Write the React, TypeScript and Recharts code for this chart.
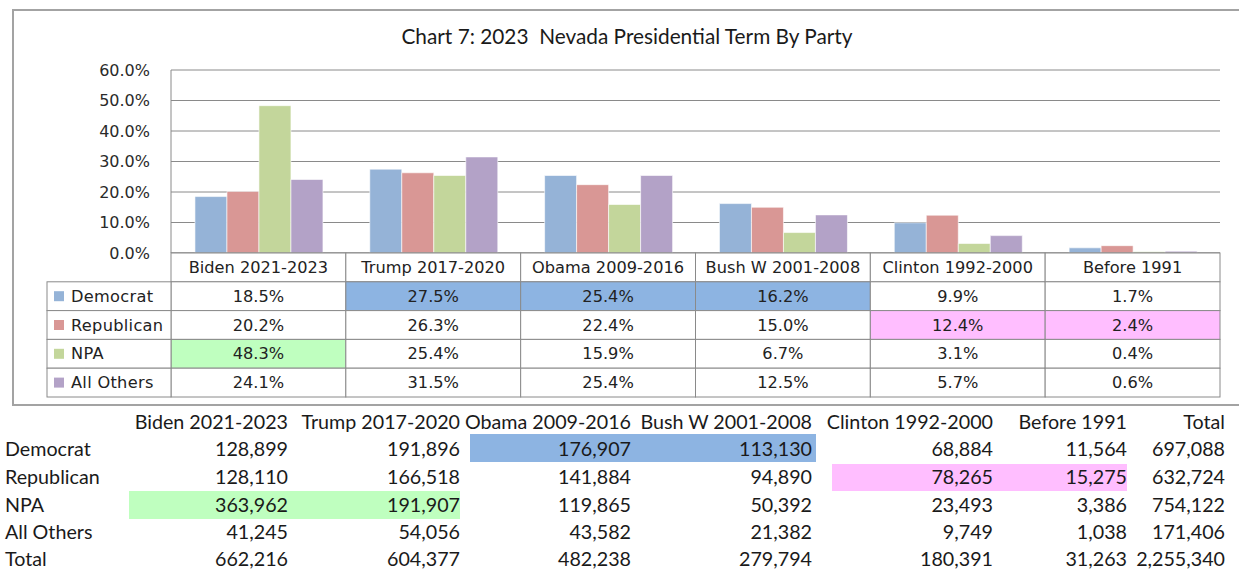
import React from 'react';
import { BarChart, Bar, XAxis, YAxis, CartesianGrid } from 'recharts';

const terms = ['Biden 2021-2023', 'Trump 2017-2020', 'Obama 2009-2016', 'Bush W 2001-2008', 'Clinton 1992-2000', 'Before 1991'];
const parties = ['Democrat', 'Republican', 'NPA', 'All Others'];

// share of each term's registrations, percent
const democratPct = [18.5, 27.5, 25.4, 16.2, 9.9, 1.7];
const republicanPct = [20.2, 26.3, 22.4, 15.0, 12.4, 2.4];
const npaPct = [48.3, 25.4, 15.9, 6.7, 3.1, 0.4];
const othersPct = [24.1, 31.5, 25.4, 12.5, 5.7, 0.6];
const yTicks = [0, 10, 20, 30, 40, 50, 60];

// raw counts table below the chart (last column is the total)
const countHeaders = [...terms, 'Total'];
const democratCount = [128899, 191896, 176907, 113130, 68884, 11564, 697088];
const republicanCount = [128110, 166518, 141884, 94890, 78265, 15275, 632724];
const npaCount = [363962, 191907, 119865, 50392, 23493, 3386, 754122];
const othersCount = [41245, 54056, 43582, 21382, 9749, 1038, 171406];
const totalCount = [662216, 604377, 482238, 279794, 180391, 31263, 2255340];

const colors = ['#95B3D7', '#D99795', '#C3D69B', '#B3A2C7'];
const keys = ['democrat', 'republican', 'npa', 'others'];
const pctRows = [democratPct, republicanPct, npaPct, othersPct];
const countRows = [democratCount, republicanCount, npaCount, othersCount, totalCount];
const countLabels = [...parties, 'Total'];

// highlighted cells in the data table: "row-col"
const tableFill: Record<string, string> = {
    '0-1': '#8DB4E2', '0-2': '#8DB4E2', '0-3': '#8DB4E2',
    '1-4': '#FFBEFF', '1-5': '#FFBEFF',
    '2-0': '#BFFFBF',
};

const chartData = terms.map((t, i) => ({
    term: t,
    democrat: democratPct[i],
    republican: republicanPct[i],
    npa: npaPct[i],
    others: othersPct[i],
}));

const GRID = '#8a8a8a';
const TABLE_FONT = '"DejaVu Sans", Verdana, sans-serif';
const TABLE_SIZE = 16.2;
const COL_W = (1220 - 171) / 6;
const ROW_H = 28.8;

function TableTick(props: any) {
    const { x, payload, index } = props;
    const y = 253;
    const left = x - COL_W / 2;
    const i = index;
    return (
        <g>
            <rect x={left} y={y} width={COL_W} height={ROW_H} fill="#fff" stroke={GRID} />
            <text x={x} y={y + ROW_H / 2 + 5.5} textAnchor="middle" fontFamily={TABLE_FONT} fontSize={TABLE_SIZE} fill="#222">{payload.value}</text>
            {pctRows.map((row, r) => (
                <g key={r}>
                    <rect x={left} y={y + ROW_H * (r + 1)} width={COL_W} height={ROW_H}
                        fill={tableFill[`${r}-${i}`] || '#fff'} stroke={GRID} />
                    <text x={x} y={y + ROW_H * (r + 1.5) + 5.5} textAnchor="middle" fontFamily={TABLE_FONT} fontSize={TABLE_SIZE} fill="#222">
                        {row[i].toFixed(1) + '%'}
                    </text>
                </g>
            ))}
            {i === 0 && parties.map((p, r) => (
                <g key={p}>
                    <rect x={47} y={y + ROW_H * (r + 1)} width={left - 47} height={ROW_H} fill="#fff" stroke={GRID} />
                    <rect x={54} y={y + ROW_H * (r + 1.5) - 5} width={10} height={10} fill={colors[r]} />
                    <text x={71} y={y + ROW_H * (r + 1.5) + 5.5} fontFamily={TABLE_FONT} fontSize={TABLE_SIZE} fill="#222" letterSpacing={0.3}>{p}</text>
                </g>
            ))}
        </g>
    );
}

const countRight = [288, 460, 631, 812, 993, 1127, 1225];
const countRowY = [449, 477, 505, 532, 559];
const countFont = 'Lato, "Open Sans", sans-serif';

function Cell({ text, right, cy, align }: { text: string; right: number; cy: number; align?: string }) {
    const style: React.CSSProperties = align === 'left'
        ? { position: 'absolute', left: right, top: cy - 13, lineHeight: '26px', whiteSpace: 'pre' }
        : { position: 'absolute', left: right - 240, width: 240, textAlign: 'right', top: cy - 13, lineHeight: '26px', whiteSpace: 'pre' };
    return <div style={style}>{text}</div>;
}

export default function App() {
    return (
        <div style={{ position: 'absolute', left: 0, top: 0, width: 1239, height: 570, background: '#fff', overflow: 'hidden' }}>
            <div style={{ position: 'absolute', left: 12, top: 9, width: 1260, height: 397, border: '2px solid #a3a3a3', boxSizing: 'border-box' }} />
            <div style={{ position: 'absolute', left: 0, top: 0 }}>
                <BarChart width={1239} height={570} data={chartData}
                    margin={{ top: 70, right: 19, left: 0, bottom: 287 }}
                    barCategoryGap="13.7%" barGap={0}>
                    <CartesianGrid vertical={false} stroke={GRID} />
                    <XAxis dataKey="term" height={30} interval={0} tickSize={0} tickMargin={0}
                        tickLine={false} axisLine={{ stroke: GRID }} tick={(p: any) => <TableTick {...p} />} />
                    <YAxis width={171} domain={[0, 60]} ticks={yTicks} interval={0}
                        tickFormatter={(v: number) => v.toFixed(1) + '%'}
                        axisLine={{ stroke: GRID }} tickLine={false} tickSize={0} tickMargin={21}
                        tick={{ fontFamily: TABLE_FONT, fontSize: 16, fill: '#2a2a2a' }} />
                    {keys.map((k, idx) => (
                        <Bar key={k} dataKey={k} fill={colors[idx]} stroke="#ffffff" strokeWidth={0.6}
                            isAnimationActive={false} />
                    ))}
                </BarChart>
            </div>
            <div style={{ position: 'absolute', left: 227, width: 800, top: 23, lineHeight: '26px', textAlign: 'center', fontFamily: countFont, fontSize: 20.8, color: '#1a1a1a', whiteSpace: 'pre' }}>
                {'Chart 7: 2023  Nevada Presidential Term By Party'}
            </div>
            <div style={{ position: 'absolute', left: 470, top: 434, width: 346, height: 28, background: '#8DB4E2' }} />
            <div style={{ position: 'absolute', left: 832, top: 464, width: 295, height: 27, background: '#FFBEFF' }} />
            <div style={{ position: 'absolute', left: 129, top: 491, width: 331, height: 28, background: '#BFFFBF' }} />
            <div style={{ position: 'absolute', left: 0, top: 0, fontFamily: countFont, fontSize: 19.7, color: '#1a1a1a' }}>
                {countHeaders.map((h, c) => (
                    <Cell key={h} text={h} right={countRight[c]} cy={422} />
                ))}
                {countRows.map((row, r) => (
                    <React.Fragment key={r}>
                        <Cell text={countLabels[r]} right={5} cy={countRowY[r]} align="left" />
                        {row.map((v, c) => (
                            <Cell key={c} text={v.toLocaleString('en-US')} right={countRight[c]} cy={countRowY[r]} />
                        ))}
                    </React.Fragment>
                ))}
            </div>
        </div>
    );
}
